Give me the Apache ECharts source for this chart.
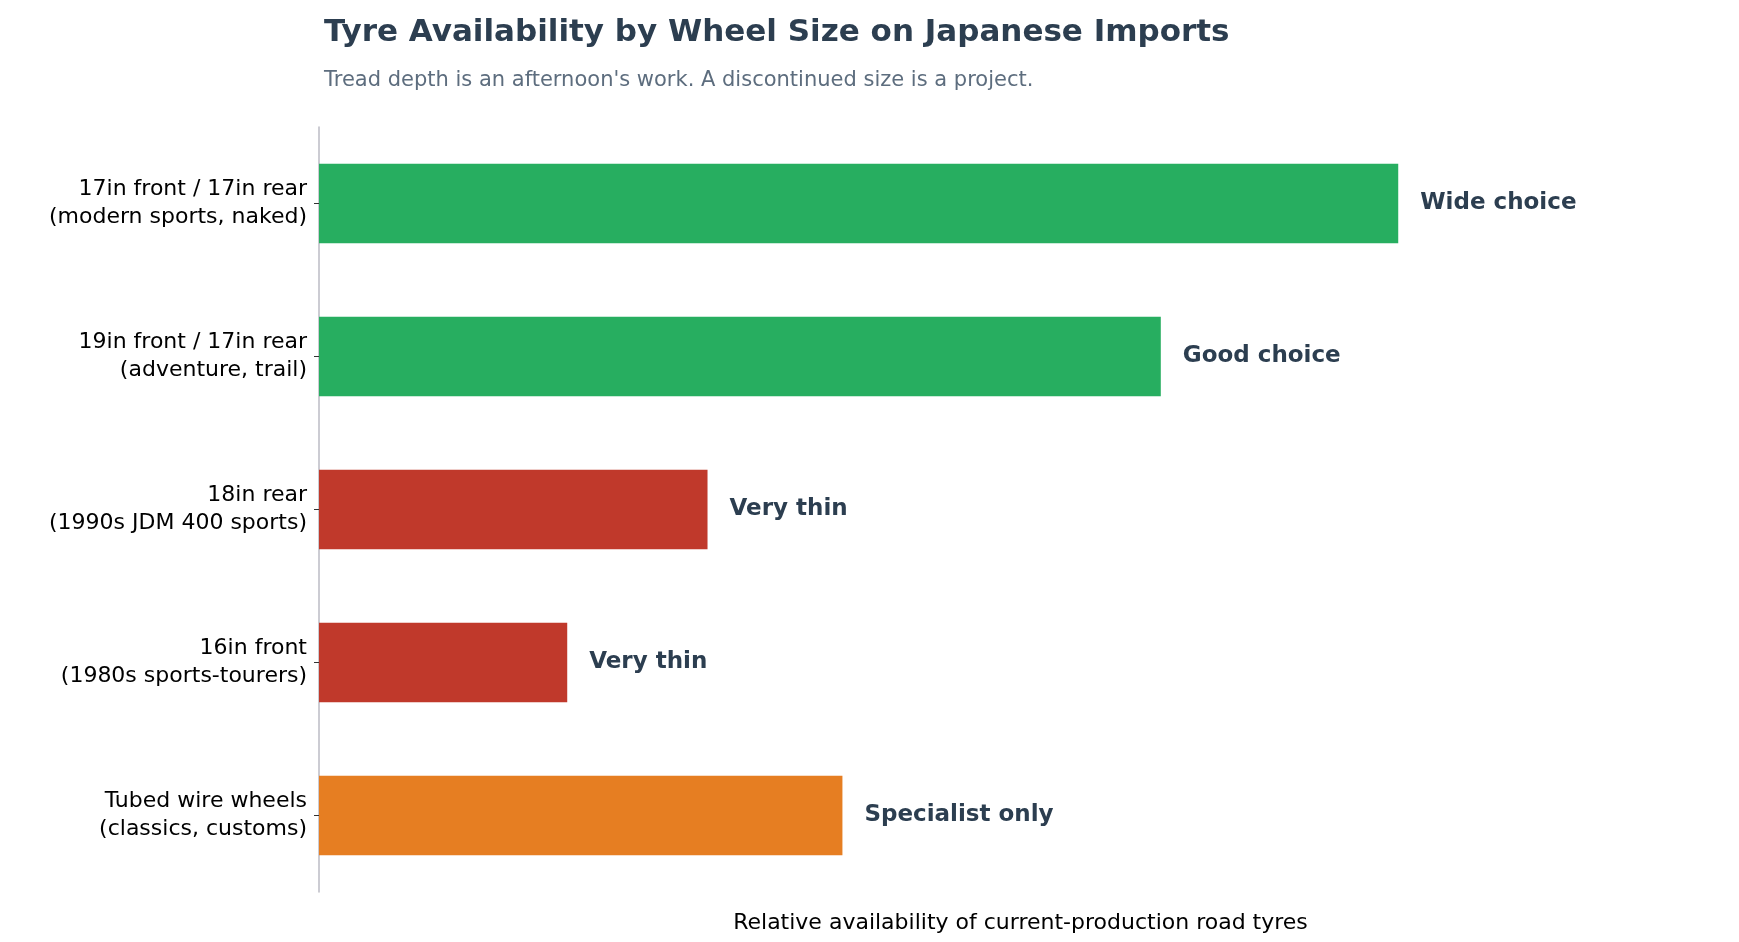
<!DOCTYPE html>
<html><head><meta charset="utf-8">
<script src="https://cdn.jsdelivr.net/npm/echarts@6/dist/echarts.min.js"></script>
<style>html,body{margin:0;background:#fff}#c{width:1739px;height:942px}</style>
</head><body><div id="c"></div>
<script>
const categories = ["17in front / 17in rear\n(modern sports, naked)","19in front / 17in rear\n(adventure, trail)","18in rear\n(1990s JDM 400 sports)","16in front\n(1980s sports-tourers)","Tubed wire wheels\n(classics, customs)"];
const values = [100, 78, 36, 23, 48.5];
const labels = ["Wide choice","Good choice","Very thin","Very thin","Specialist only"];
const colors = ["#27ae60","#27ae60","#c0392b","#c0392b","#e67e22"];
const F = "DejaVu Sans";
const chart = echarts.init(document.getElementById('c'));
chart.setOption({
  animation:false,
  textStyle:{fontFamily:F},
  title:{text:"Tyre Availability by Wheel Size on Japanese Imports",
    subtext:"Tread depth is an afternoon's work. A discontinued size is a project.",
    left:319, top:12, itemGap:22,
    textStyle:{fontFamily:F,fontSize:31,fontWeight:'bold',color:'#2c3e50'},
    subtextStyle:{fontFamily:F,fontSize:21,color:'#5d6d7e'}},
  grid:{left:319,right:17,top:127,bottom:50,containLabel:false},
  xAxis:{type:'value',min:0,max:130,name:"Relative availability of current-production road tyres",
    nameLocation:'middle',nameGap:20,nameTextStyle:{fontFamily:F,fontSize:22,color:'#000'},
    axisLine:{show:false},axisTick:{show:false},axisLabel:{show:false},splitLine:{show:false}},
  yAxis:{type:'category',inverse:true,data:categories,
    axisLine:{lineStyle:{color:'#bbbbc4',width:1.5}},
    axisTick:{show:true,alignWithLabel:true,length:5,lineStyle:{color:'#333'}},
    axisLabel:{fontFamily:F,fontSize:22,color:'#000',align:'right',lineHeight:28,margin:12}},
  series:[{type:'bar',barWidth:'52%',
    data:values.map((v,i)=>({value:v,itemStyle:{color:colors[i]}})),
    label:{show:true,position:'right',distance:22,fontFamily:F,fontSize:23,fontWeight:'bold',color:'#2c3e50',
      formatter:p=>labels[p.dataIndex]}}]
});
</script></body></html>
